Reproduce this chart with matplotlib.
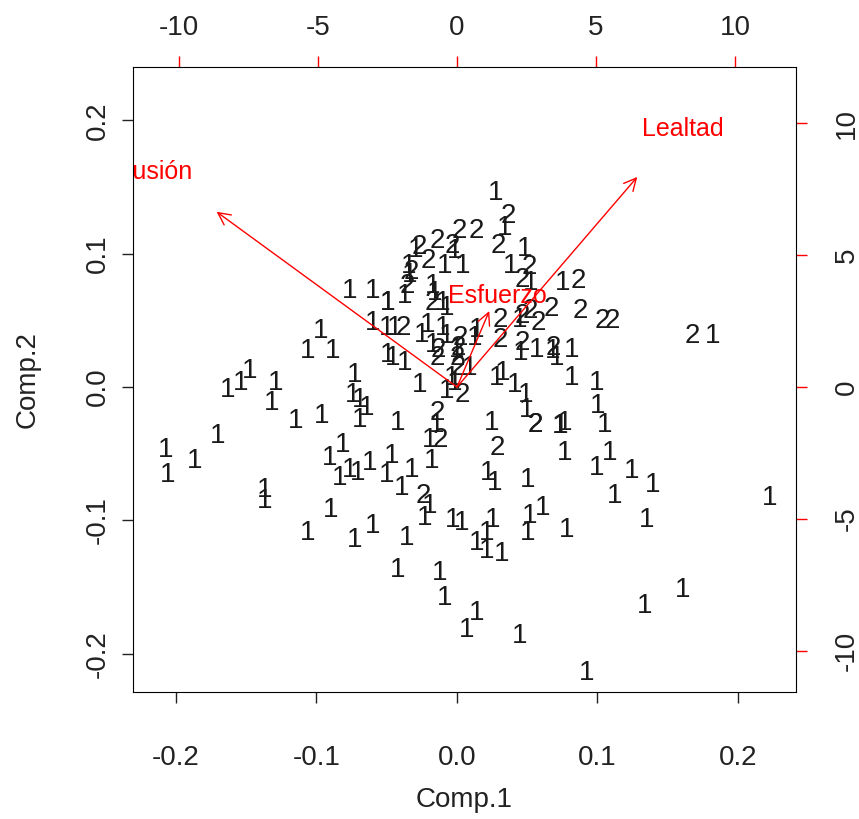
import numpy as np
import matplotlib.pyplot as plt

plt.rcParams['font.family'] = ['Liberation Sans', 'DejaVu Sans']

# puntuaciones (Comp.1, Comp.2) y grupo de cada individuo
comp1 = [0.0278, 0.0363, 0.0342, 0.0292, 0.0484, 0.0384, 0.0513, 0.0463, 0.0527, 0.0755,
         0.0862, 0.0014, 0.0135, -0.0142, -0.0292, -0.0271, -0.0036, -0.0014, -0.0342, -0.0206,
         -0.0085, 0.0043, -0.0335, -0.0328, -0.0598, -0.0762, -0.0356, -0.0171, -0.0370, -0.0491,
         -0.0491, -0.0157, -0.0178, -0.0100, -0.0071, -0.0598, -0.0498, -0.0441, -0.0384, -0.0249,
         -0.0206, -0.0100, -0.0071, 0.0021, 0.0128, 0.0142, 0.0306, 0.0449, 0.0463, 0.0520,
         0.0577, 0.0669, 0.0876, 0.1032, 0.1104, 0.0306, 0.0463, 0.0456, 0.0570, 0.0684,
         0.0684, 0.0819, 0.0712, -0.0171, -0.0135, 0.0000, 0.0007, -0.0491, -0.0456, -0.0370,
         -0.0142, 0.0000, 0.0007, 0.0093, -0.0036, -0.0014, 0.0036, -0.0071, -0.0263, 0.0285,
         0.0328, 0.0413, 0.0491, 0.0819, 0.0996, 0.1004, -0.0968, -0.1060, -0.0883, -0.0726,
         -0.1630, -0.1538, -0.1474, -0.1289, -0.1317, -0.0740, -0.0691, -0.1146, -0.0961, -0.0691,
         -0.1702, -0.2072, -0.1865, -0.2057, -0.0812, -0.0904, -0.0833, -0.0762, -0.0705, -0.1367,
         -0.1367, -0.0897, -0.1061, -0.0726, -0.0641, -0.0420, -0.0142, -0.0142, 0.0249, 0.0555,
         0.0558, 0.0733, 0.0736, 0.0769, 0.0498, -0.0192, -0.0121, 0.0285, 0.0769, -0.0619,
         -0.0463, -0.0498, -0.0178, -0.0320, -0.0392, 0.0221, 0.0271, 0.0506, 0.0997, -0.0242,
         -0.0192, -0.0598, -0.0228, -0.0028, 0.0036, 0.0256, 0.0520, 0.0612, 0.0783, -0.0356,
         0.0142, 0.0214, 0.0505, 0.0214, 0.0320, -0.0420, -0.0121, -0.0085, 0.0142, 0.0071,
         0.0448, 0.0925, 0.1338, 0.1609, 0.1053, 0.1089, 0.1246, 0.1395, 0.1125, 0.1352,
         0.2228, 0.1673, 0.1822]
comp2 = [0.1478, 0.1305, 0.1215, 0.1080, 0.1058, 0.0930, 0.0923, 0.0825, 0.0803, 0.0803,
         0.0818, 0.1193, 0.1193, 0.1118, 0.1050, 0.1073, 0.1080, 0.1043, 0.0930, 0.0968,
         0.0930, 0.0930, 0.0863, 0.0885, 0.0743, 0.0743, 0.0780, 0.0780, 0.0705, 0.0653,
         0.0656, 0.0728, 0.0653, 0.0653, 0.0615, 0.0503, 0.0465, 0.0465, 0.0465, 0.0413,
         0.0488, 0.0465, 0.0405, 0.0390, 0.0390, 0.0450, 0.0525, 0.0525, 0.0555, 0.0593,
         0.0503, 0.0608, 0.0593, 0.0518, 0.0518, 0.0375, 0.0353, 0.0278, 0.0300, 0.0293,
         0.0315, 0.0300, 0.0240, 0.0338, 0.0300, 0.0300, 0.0315, 0.0263, 0.0240, 0.0203,
         0.0240, 0.0240, 0.0165, 0.0165, 0.0090, 0.0053, -0.0038, -0.0008, 0.0038, 0.0090,
         0.0128, 0.0038, -0.0038, 0.0090, 0.0053, -0.0120, 0.0443, 0.0293, 0.0293, 0.0113,
         0.0000, 0.0053, 0.0143, 0.0053, -0.0098, -0.0038, -0.0075, -0.0233, -0.0195, -0.0225,
         -0.0345, -0.0450, -0.0533, -0.0638, -0.0413, -0.0510, -0.0660, -0.0600, -0.0623, -0.0750,
         -0.0833, -0.0900, -0.1073, -0.1125, -0.0135, -0.0248, -0.0173, -0.0263, -0.0248, -0.0263,
         -0.0263, -0.0270, -0.0270, -0.0248, -0.0150, -0.0375, -0.0375, -0.0435, -0.0473, -0.0548,
         -0.0495, -0.0638, -0.0533, -0.0600, -0.0735, -0.0623, -0.0698, -0.0675, -0.0585, -0.0795,
         -0.0870, -0.1020, -0.0960, -0.0975, -0.0998, -0.0975, -0.0945, -0.0885, -0.1050, -0.1110,
         -0.1148, -0.1073, -0.1073, -0.1208, -0.1230, -0.1350, -0.1373, -0.1560, -0.1673, -0.1800,
         -0.1845, -0.2123, -0.1620, -0.1500, -0.0263, -0.0473, -0.0608, -0.0713, -0.0795, -0.0975,
         -0.0810, 0.0405, 0.0405]
grupo = ['1', '2', '1', '2', '1', '1', '2', '2', '1', '1',
         '2', '2', '2', '2', '1', '2', '2', '1', '1', '2',
         '1', '1', '1', '2', '1', '1', '2', '1', '1', '1',
         '1', '1', '2', '1', '1', '1', '1', '1', '2', '1',
         '1', '1', '1', '2', '1', '1', '2', '1', '2', '2',
         '2', '2', '2', '2', '2', '2', '2', '1', '1', '1',
         '2', '1', '1', '1', '2', '1', '2', '1', '1', '1',
         '2', '2', '2', '1', '1', '1', '2', '1', '1', '1',
         '1', '1', '1', '1', '1', '1', '1', '1', '1', '1',
         '1', '1', '1', '1', '1', '1', '1', '1', '1', '1',
         '1', '1', '1', '1', '1', '1', '1', '1', '1', '1',
         '1', '1', '1', '1', '1', '1', '2', '1', '1', '2',
         '2', '1', '1', '1', '1', '1', '2', '2', '1', '1',
         '1', '1', '1', '1', '1', '1', '1', '1', '1', '2',
         '1', '1', '1', '1', '1', '1', '1', '1', '1', '1',
         '1', '1', '1', '1', '1', '1', '1', '1', '1', '1',
         '1', '1', '1', '1', '1', '1', '1', '1', '1', '1',
         '1', '2', '1']

# cargas de las variables (escala superior / derecha)
variables = ['Ilusión', 'Esfuerzo', 'Lealtad']
carga1 = [-10.8, 1.45, 8.1]
carga2 = [8.3, 3.6, 9.95]
ratio = 50.5   # escala de cargas / escala de puntuaciones

fig = plt.figure(figsize=(8.59, 8.19), dpi=100)
ax = fig.add_axes([0.1548, 0.155, 0.7719, 0.7632])
ax.set_xlim(-0.2306, 0.2413)
ax.set_ylim(-0.2288, 0.2401)

# texto centrado como en R: la altura de la cifra centrada en el punto
for x, y, g in zip(comp1, comp2, grupo):
    ax.annotate(g, (x, y), xytext=(0, -7.2), textcoords='offset points',
                ha='center', va='baseline', fontsize=20, color='#1a1a1a')

for nombre, a, b in zip(variables, carga1, carga2):
    ax.annotate('', xy=(0.8 * a / ratio, 0.8 * b / ratio), xytext=(0, 0),
                arrowprops=dict(arrowstyle='->', color='red', lw=1,
                                mutation_scale=22, shrinkA=0, shrinkB=0))
    ax.annotate(nombre, (a / ratio, b / ratio), xytext=(0, -8),
                textcoords='offset points', ha='center', va='baseline',
                fontsize=18, color='red', annotation_clip=False, clip_on=True)

ax.set_xticks([-0.2, -0.1, 0.0, 0.1, 0.2])
ax.set_yticks([-0.2, -0.1, 0.0, 0.1, 0.2])
ax.set_xticklabels(['-0.2', '-0.1', '0.0', '0.1', '0.2'])
ax.set_yticklabels(['-0.2', '-0.1', '0.0', '0.1', '0.2'], rotation=90, va='center')
ax.tick_params(axis='both', labelsize=20, length=8, width=1, colors='#222222')
ax.tick_params(axis='x', pad=30)
ax.tick_params(axis='y', pad=8)
ax.set_xlabel('Comp.1', fontsize=20, labelpad=12, color='#222222')
ax.set_ylabel('Comp.2', fontsize=20, labelpad=32, color='#222222')

# ejes de las cargas
sx = ax.secondary_xaxis('top', functions=(lambda v: v * ratio, lambda v: v / ratio))
sy = ax.secondary_yaxis('right', functions=(lambda v: v * ratio, lambda v: v / ratio))
sx.set_xticks([-10, -5, 0, 5, 10])
sy.set_yticks([-10, -5, 0, 5, 10])
sx.set_xticklabels(['-10', '-5', '0', '5', '10'])
sy.set_yticklabels(['-10', '-5', '0', '5', '10'], rotation=90, va='center')
for s in (sx, sy):
    s.spines[:].set_visible(False)
    s.tick_params(labelsize=20, length=8, width=1, color='red', labelcolor='#222222')
sx.tick_params(pad=11)
sy.tick_params(pad=19)

plt.savefig('out.png', dpi=100)
